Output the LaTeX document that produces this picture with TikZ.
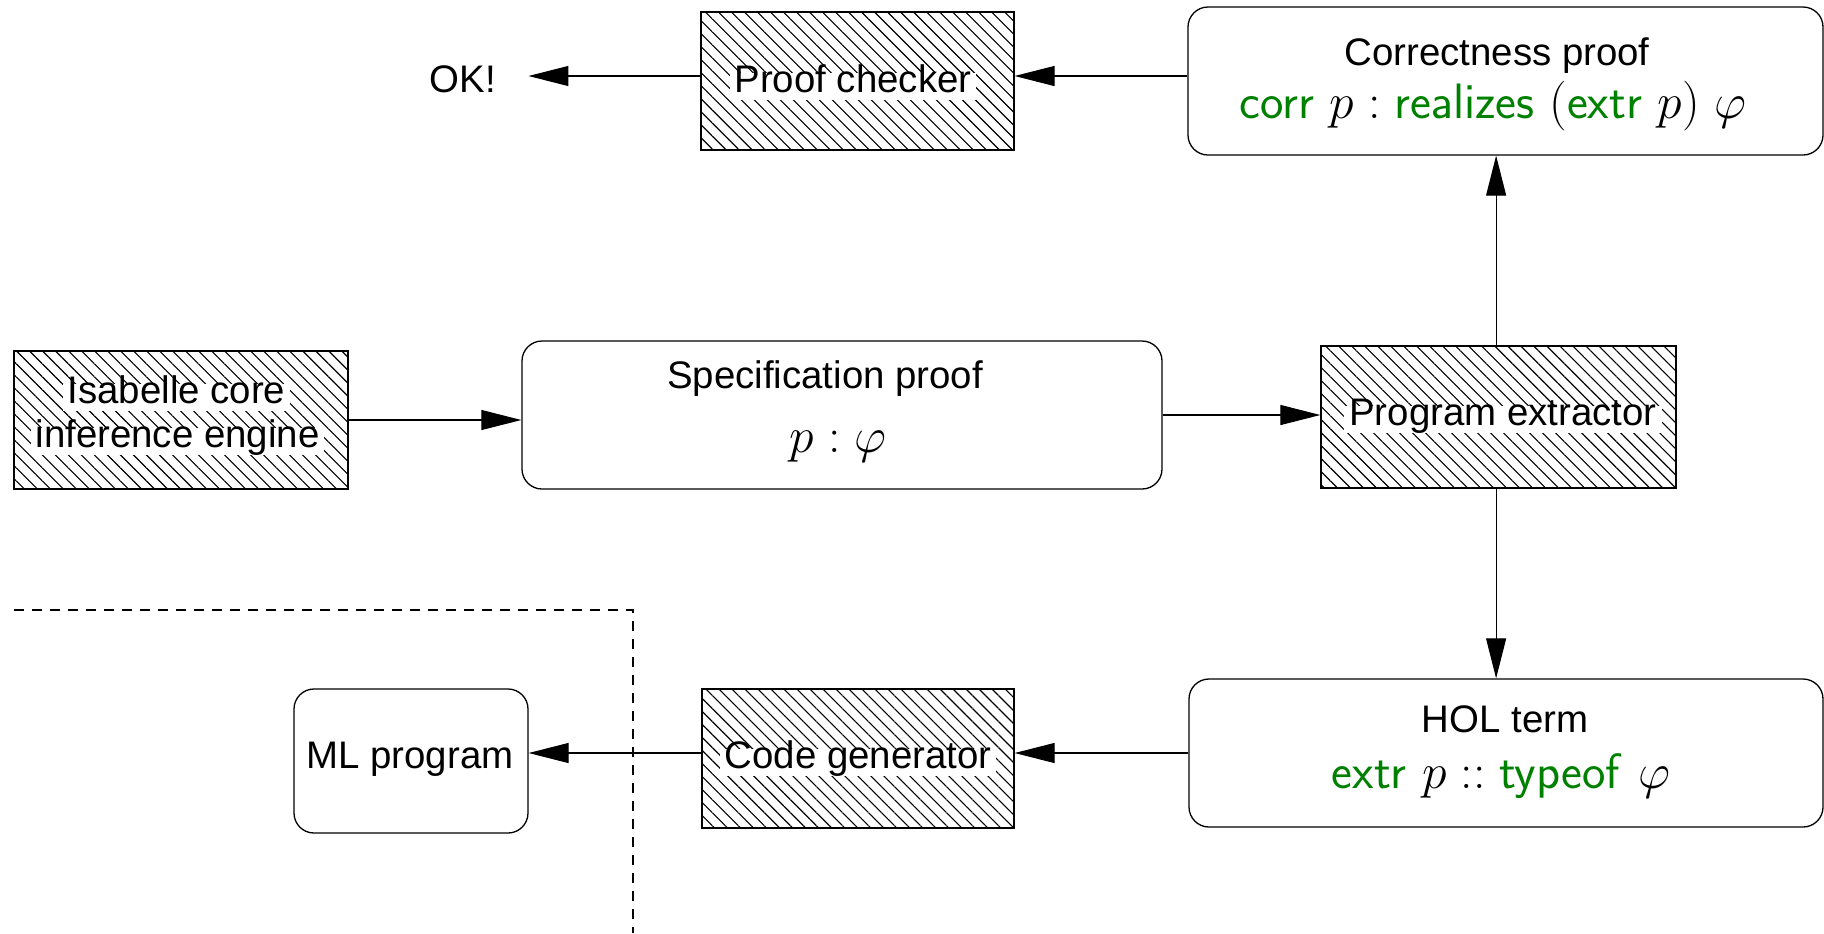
\documentclass[tikz,border=0pt]{standalone}
\usepackage[no-math]{fontspec}
\setmainfont{Liberation Sans}
\usetikzlibrary{arrows.meta,patterns.meta}
\definecolor{pgreen}{RGB}{0,128,0}
\newcommand{\gsf}[1]{\textcolor{pgreen}{\mathsf{#1}}}
\begin{document}
\begin{tikzpicture}[x=0.5pt,y=-0.5pt,
  every node/.style={font=\fontsize{19.2}{23}\selectfont},
  hatchbox/.style={draw, line width=0.65pt, pattern={Lines[angle=-45,distance=4.6pt,line width=0.55pt]}, inner sep=0pt},
  roundbox/.style={draw, line width=0.65pt, rounded corners=10pt, inner sep=0pt},
  whitelabel/.style={fill=white, inner xsep=2.5pt, inner ysep=1.8pt, text height=0.76em, text depth=0.22em},
  plainlabel/.style={inner sep=0pt},
  mathline/.style={inner sep=0pt, font=\fontsize{26.5}{30}\selectfont},
  arr/.style={line width=0.55pt, -{Triangle[length=20pt,width=10pt]}},
  dashline/.style={line width=0.55pt, dash pattern=on 5pt off 4pt}
]
\useasboundingbox (0,0) rectangle (1824,933);

% boxes
\node[hatchbox, minimum width=156.5pt, minimum height=69pt] (pc) at (857.5,81) {};
\node[whitelabel, anchor=base] (pcl) at (853,92) {Proof checker};

\node[roundbox, minimum width=317.5pt, minimum height=74pt] (corr) at (1505.5,81) {};
\node[plainlabel, anchor=base] (corrt) at (1497,65) {Correctness proof};
\node[mathline, anchor=base] (corrm) at (1493,118) {$\gsf{corr}\ p : \gsf{realizes}\ (\gsf{extr}\ p)\ \varphi$};

\node[plainlabel, anchor=base] (ok) at (463,92) {OK!};

\node[hatchbox, minimum width=167pt, minimum height=69pt] (isa) at (181,420) {};
\node[whitelabel, anchor=base] (isal1) at (176.5,403) {Isabelle core};
\node[whitelabel, anchor=base] (isal2) at (177.5,447) {inference engine};

\node[roundbox, minimum width=320pt, minimum height=74pt] (spec) at (842,415) {};
\node[plainlabel, anchor=base] (spect) at (825,388) {Specification proof};
\node[mathline, anchor=base] (specm) at (838,452) {$p : \varphi$};

\node[hatchbox, minimum width=177.5pt, minimum height=71pt] (pe) at (1498.5,417) {};
\node[whitelabel, anchor=base] (pel) at (1503,425) {Program extractor};

\node[roundbox, minimum width=317pt, minimum height=74pt] (hol) at (1506,753) {};
\node[plainlabel, anchor=base] (holt) at (1505,732) {HOL term};
\node[mathline, anchor=base] (holm) at (1501,788) {$\gsf{extr}\ p \mathrel{::} \gsf{typeof}\ \varphi$};

\node[hatchbox, minimum width=156pt, minimum height=69.5pt] (cg) at (858,758.5) {};
\node[whitelabel, anchor=base] (cgl) at (858,768) {Code generator};

\node[roundbox, minimum width=117pt, minimum height=72pt] (ml) at (411,761) {};
\node[plainlabel, anchor=base] (mlt) at (410,768) {ML program};

% connectors
\draw[arr] ([yshift=2.5pt]corr.west) -- ([yshift=2.5pt]corr.west -| pc.east);
\draw[arr, shorten >=16pt] ([yshift=2.5pt]pc.west) -- ([yshift=2.5pt]pc.west -| ok.east);
\draw[arr] (isa.east) -- (isa.east -| spec.west);
\draw[arr] (spec.east) -- (spec.east -| pe.west);
\draw[arr] ([xshift=-1.2pt]pe.north) -- ([xshift=-1.2pt]pe.north |- corr.south);
\draw[arr] ([xshift=-1.2pt]pe.south) -- ([xshift=-1.2pt]pe.south |- hol.north);
\draw[arr] (hol.west) -- (hol.west -| cg.east);
\draw[arr] ([yshift=2.75pt]cg.west) -- ([yshift=2.75pt]cg.west -| ml.east);

% dashed boundary
\coordinate (d1) at (14,610);
\coordinate (d2) at (633,610);
\coordinate (d3) at (633,933);
\draw[dashline] (d1) -- (d2) -- (d3);
\end{tikzpicture}
\end{document}
